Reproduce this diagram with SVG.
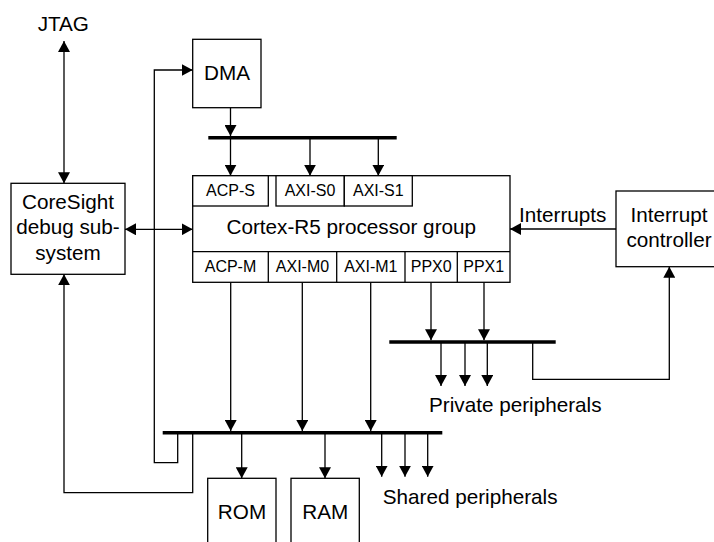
<svg xmlns="http://www.w3.org/2000/svg" width="714" height="542" viewBox="0 0 714 542">
<defs>
<marker id="ah" markerUnits="userSpaceOnUse" markerWidth="11" markerHeight="12" refX="11" refY="6" orient="auto-start-reverse">
<path d="M0,0 L11,6 L0,12 z" fill="#000"/>
</marker>
<style>
.box{fill:#fff;stroke:#000;stroke-width:1.3}
.ln{fill:none;stroke:#000;stroke-width:1.3}
.bus{fill:none;stroke:#000;stroke-width:3.5}
.arr{fill:none;stroke:#000;stroke-width:1.3;marker-end:url(#ah)}
.t{font-family:"Liberation Sans",Arial,sans-serif;font-size:20.7px;fill:#000;text-anchor:middle}
.s{font-family:"Liberation Sans",Arial,sans-serif;font-size:16px;fill:#000;text-anchor:middle}
.l{font-family:"Liberation Sans",Arial,sans-serif;font-size:20.7px;fill:#000}
</style>
</defs>
<rect width="714" height="542" fill="#fff"/>

<g id="connectors">
<path class="arr" d="M64,183.3 V41" style="marker-start:url(#ah)"/>
<path class="arr" d="M125,229.3 H192.7" style="marker-start:url(#ah)"/>
<path class="arr" d="M230.5,107.7 V136"/>
<line class="bus" x1="208.3" y1="137.7" x2="396.7" y2="137.7"/>
<path class="arr" d="M230.5,137.7 V175.7"/>
<path class="arr" d="M310,137.7 V175.7"/>
<path class="arr" d="M378.3,137.7 V175.7"/>
<path class="arr" d="M616,229 H510"/>
<path class="arr" d="M230.7,282.3 V431"/>
<path class="arr" d="M302.3,282.3 V431"/>
<path class="arr" d="M370.7,282.3 V431"/>
<path class="arr" d="M431,282.3 V340.3"/>
<path class="arr" d="M484,282.3 V340.3"/>
<line class="bus" x1="389.3" y1="342" x2="555.7" y2="342"/>
<path class="arr" d="M441,342 V386"/>
<path class="arr" d="M465,342 V386"/>
<path class="arr" d="M487.3,342 V386"/>
<path class="arr" d="M532.7,342 V379.3 H669.3 V266.7"/>
<line class="bus" x1="162.7" y1="432.7" x2="442.3" y2="432.7"/>
<path class="arr" d="M177.7,432.7 V462.7 H154.3 V70 H192.7"/>
<path class="arr" d="M192.7,432.7 V492.7 H64 V274.3"/>
<path class="arr" d="M241.7,432.7 V478.3"/>
<path class="arr" d="M325,432.7 V478.3"/>
<path class="arr" d="M381.7,432.7 V476.7"/>
<path class="arr" d="M405,432.7 V476.7"/>
<path class="arr" d="M427.7,432.7 V476.7"/>
</g>

<g id="jtag">
<text class="t" x="63.3" y="31">JTAG</text>
</g>

<g id="coresight">
<rect class="box" x="11" y="183.3" width="114" height="91"/>
<text class="t" x="68" y="209.3">CoreSight</text>
<text class="t" x="68" y="234.3">debug sub-</text>
<text class="t" x="68" y="260">system</text>
</g>

<g id="dma">
<rect class="box" x="192.7" y="39.3" width="68.3" height="68.4"/>
<text class="t" x="227" y="80">DMA</text>
</g>

<g id="processor">
<rect class="box" x="192.7" y="175.7" width="317.3" height="106.6"/>
<rect class="box" x="192.7" y="175.7" width="75.6" height="30.3"/>
<rect class="box" x="276" y="175.7" width="68.3" height="30.3"/>
<rect class="box" x="344.3" y="175.7" width="68" height="30.3"/>
<line class="ln" x1="192.7" y1="251.7" x2="510" y2="251.7"/>
<line class="ln" x1="268.3" y1="251.7" x2="268.3" y2="282.3"/>
<line class="ln" x1="336.7" y1="251.7" x2="336.7" y2="282.3"/>
<line class="ln" x1="405" y1="251.7" x2="405" y2="282.3"/>
<line class="ln" x1="457.3" y1="251.7" x2="457.3" y2="282.3"/>
<text class="s" x="230.5" y="196">ACP-S</text>
<text class="s" x="310" y="196">AXI-S0</text>
<text class="s" x="378.3" y="196">AXI-S1</text>
<text class="t" x="351.3" y="234">Cortex-R5 processor group</text>
<text class="s" x="230.5" y="272">ACP-M</text>
<text class="s" x="302.5" y="272">AXI-M0</text>
<text class="s" x="370.8" y="272">AXI-M1</text>
<text class="s" x="431.2" y="272">PPX0</text>
<text class="s" x="483.7" y="272">PPX1</text>
</g>

<g id="interrupts-label">
<text class="l" x="519" y="221.7">Interrupts</text>
</g>

<g id="interrupt-controller">
<rect class="box" x="616" y="191" width="112" height="75.7"/>
<text class="t" x="669" y="221.5">Interrupt</text>
<text class="t" x="669" y="246.7">controller</text>
</g>

<g id="private-peripherals">
<text class="l" x="429" y="411.5">Private peripherals</text>
</g>

<g id="rom">
<rect class="box" x="207.7" y="478.3" width="68.3" height="80"/>
<text class="t" x="242" y="519">ROM</text>
</g>

<g id="ram">
<rect class="box" x="291" y="478.3" width="68.3" height="80"/>
<text class="t" x="325.2" y="519">RAM</text>
</g>

<g id="shared-peripherals">
<text class="l" x="382.7" y="504">Shared peripherals</text>
</g>
</svg>
